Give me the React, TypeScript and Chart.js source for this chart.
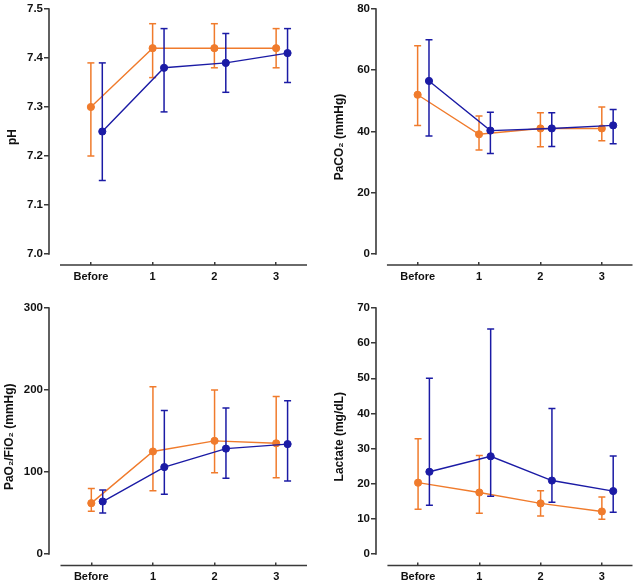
import React, { useEffect, useRef } from "react";
import { Chart, registerables } from "chart.js";

Chart.register(...registerables);

// ---------- data ----------
const categories = ["Before", "1", "2", "3"];
const orangeX = [0, 1, 2, 3];
const blueX = [0.185, 1.185, 2.185, 3.185];

const phTicks = [7.0, 7.1, 7.2, 7.3, 7.4, 7.5];
const phOrangeMean = [7.3, 7.42, 7.42, 7.42];
const phOrangeLow = [7.2, 7.36, 7.38, 7.38];
const phOrangeHigh = [7.39, 7.47, 7.47, 7.46];
const phBlueMean = [7.25, 7.38, 7.39, 7.41];
const phBlueLow = [7.15, 7.29, 7.33, 7.35];
const phBlueHigh = [7.39, 7.46, 7.45, 7.46];

const paco2Ticks = [0, 20, 40, 60, 80];
const paco2OrangeMean = [52, 39.1, 41, 41];
const paco2OrangeLow = [42, 34, 35, 37];
const paco2OrangeHigh = [68, 45.1, 46.1, 48];
const paco2BlueMean = [56.5, 40.3, 41, 42];
const paco2BlueLow = [38.5, 32.8, 35.1, 36];
const paco2BlueHigh = [70, 46.3, 46.1, 47.2];

const pfTicks = [0, 100, 200, 300];
const pfOrangeMean = [62, 125, 138, 135];
const pfOrangeLow = [52, 77, 99, 93];
const pfOrangeHigh = [80, 204, 200, 192];
const pfBlueMean = [64, 106, 128.5, 134];
const pfBlueLow = [50, 73, 92.5, 89];
const pfBlueHigh = [78, 175, 178, 187];

const lacTicks = [0, 10, 20, 30, 40, 50, 60, 70];
const lacOrangeMean = [20.3, 17.5, 14.4, 12.1];
const lacOrangeLow = [12.7, 11.6, 10.8, 9.9];
const lacOrangeHigh = [32.8, 28, 18, 16.2];
const lacBlueMean = [23.4, 27.8, 20.9, 17.9];
const lacBlueLow = [13.9, 16.4, 14.7, 11.9];
const lacBlueHigh = [50, 64, 41.4, 27.9];

// ---------- styles ----------
const ORANGE = "#F07B2C";
const BLUE = "#1B1BA5";
const AXIS = "#3a3a3a";
const TEXT = "#111111";
const FONT = "'Liberation Sans', Arial, sans-serif";
const CANVAS_W = 319;
const CANVAS_H = 292;
const X_EXTENT = [-0.5, 3.5];

type PanelDef = {
  key: string;
  left: number;
  top: number;
  L: number;
  T: number;
  W: number;
  H: number;
  gap: number;
  titlePad: number;
  title: string;
  ticks: number[];
  decimals: number;
  orange: [number[], number[], number[]];
  blue: [number[], number[], number[]];
};

const panels: PanelDef[] = [
  { key: "ph", left: 0, top: 0, L: 49, T: 9, W: 258, H: 256, gap: 11, titlePad: 5.8, title: "pH", ticks: phTicks, decimals: 1,
    orange: [phOrangeMean, phOrangeLow, phOrangeHigh], blue: [phBlueMean, phBlueLow, phBlueHigh] },
  { key: "paco2", left: 319, top: 0, L: 57, T: 9, W: 258, H: 256, gap: 11, titlePad: 13.5, title: "PaCO\u2082 (mmHg)", ticks: paco2Ticks, decimals: 0,
    orange: [paco2OrangeMean, paco2OrangeLow, paco2OrangeHigh], blue: [paco2BlueMean, paco2BlueLow, paco2BlueHigh] },
  { key: "pf", left: 0, top: 292, L: 49, T: 16, W: 258, H: 257.5, gap: 11.5, titlePad: 2.8, title: "PaO\u2082/FiO\u2082 (mmHg)", ticks: pfTicks, decimals: 0,
    orange: [pfOrangeMean, pfOrangeLow, pfOrangeHigh], blue: [pfBlueMean, pfBlueLow, pfBlueHigh] },
  { key: "lac", left: 319, top: 292, L: 57, T: 16, W: 258, H: 257.5, gap: 11.5, titlePad: 13.5, title: "Lactate (mg/dL)", ticks: lacTicks, decimals: 0,
    orange: [lacOrangeMean, lacOrangeLow, lacOrangeHigh], blue: [lacBlueMean, lacBlueLow, lacBlueHigh] },
];

function meanPoints(xs: number[], ys: number[]) {
  return xs.map((x, i) => ({ x, y: ys[i] }));
}

function errorBarPoints(xs: number[], lo: number[], hi: number[]) {
  const pts: { x: number; y: number | null }[] = [];
  xs.forEach((x, i) => {
    pts.push({ x, y: lo[i] }, { x, y: hi[i] }, { x, y: null });
  });
  return pts;
}

const offsetAxesPlugin = {
  id: "offsetAxes",
  beforeDatasetsDraw(chart: any, _args: any, opts: any) {
    const { ctx, chartArea, scales } = chart;
    const x = scales.x;
    const y = scales.y;
    ctx.save();
    ctx.strokeStyle = opts.color;
    ctx.lineWidth = opts.width;
    ctx.beginPath();
    ctx.moveTo(chartArea.left, y.getPixelForValue(opts.yMax) - 0.75);
    ctx.lineTo(chartArea.left, y.getPixelForValue(opts.yMin) + 0.75);
    ctx.moveTo(x.getPixelForValue(opts.xMin), chartArea.bottom);
    ctx.lineTo(x.getPixelForValue(opts.xMax), chartArea.bottom);
    ctx.stroke();
    ctx.restore();
  },
};

function Panel({ p }: { p: PanelDef }) {
  const ref = useRef<HTMLCanvasElement | null>(null);

  useEffect(() => {
    if (!ref.current) return;
    const yMin = p.ticks[0];
    const yMax = p.ticks[p.ticks.length - 1];
    const yLow = yMin - (p.gap * (yMax - yMin)) / (p.H - p.gap);
    const xSpan = X_EXTENT[1] - X_EXTENT[0];
    const xLow = X_EXTENT[0] - (p.gap * xSpan) / (p.W - p.gap);

    const series = (color: string, xs: number[], vals: [number[], number[], number[]], order: number) => [
      {
        type: "line" as const,
        data: errorBarPoints(xs, vals[1], vals[2]),
        borderColor: color,
        borderWidth: 1.5,
        pointStyle: "line" as const,
        pointRadius: 3.5,
        pointBorderWidth: 1.5,
        pointBorderColor: color,
        pointBackgroundColor: color,
        spanGaps: false,
        fill: false,
        order: order + 1,
      },
      {
        type: "line" as const,
        data: meanPoints(xs, vals[0]),
        borderColor: color,
        borderWidth: 1.4,
        pointStyle: "circle" as const,
        pointRadius: 3.6,
        pointBorderWidth: 1,
        pointBorderColor: color,
        pointBackgroundColor: color,
        fill: false,
        tension: 0,
        order,
      },
    ];

    const chart = new Chart(ref.current, {
      type: "line",
      data: {
        datasets: [
          ...series(ORANGE, orangeX, p.orange, 10),
          ...series(BLUE, blueX, p.blue, 1),
        ] as any,
      },
      options: {
        animation: false,
        responsive: false,
        events: [],
        layout: {
          padding: { left: 0, top: p.T, right: CANVAS_W - p.L - p.W, bottom: 0 },
        },
        plugins: {
          legend: { display: false },
          tooltip: { enabled: false },
          offsetAxes: { color: AXIS, width: 1.6, yMin, yMax, xMin: X_EXTENT[0], xMax: X_EXTENT[1] },
        } as any,
        scales: {
          x: {
            type: "linear",
            min: xLow,
            max: X_EXTENT[1],
            afterBuildTicks: (scale: any) => {
              scale.ticks = orangeX.map((v) => ({ value: v }));
            },
            afterFit: (scale: any) => {
              scale.height = CANVAS_H - p.T - p.H;
            },
            grid: { drawOnChartArea: false, drawTicks: true, tickLength: -3, color: AXIS, lineWidth: 1.5 },
            border: { display: false },
            ticks: {
              autoSkip: false,
              maxRotation: 0,
              padding: 8,
              color: TEXT,
              font: { family: FONT, size: 11, weight: "bold" },
              callback: (v: any) => categories[Math.round(Number(v))] ?? "",
            },
          },
          y: {
            type: "linear",
            min: yLow,
            max: yMax,
            afterBuildTicks: (scale: any) => {
              scale.ticks = p.ticks.map((v) => ({ value: v }));
            },
            afterFit: (scale: any) => {
              scale.width = p.L;
            },
            grid: { drawOnChartArea: false, drawTicks: true, tickLength: 5, color: AXIS, lineWidth: 1.5 },
            border: { display: false },
            ticks: {
              padding: 1,
              color: TEXT,
              font: { family: FONT, size: 11.5, weight: "bold" },
              callback: (v: any) => Number(v).toFixed(p.decimals),
            },
            title: {
              display: true,
              text: p.title,
              color: TEXT,
              font: { family: FONT, size: 12, weight: "bold" },
              padding: { top: p.titlePad, bottom: 0 },
            },
          },
        },
      },
      plugins: [offsetAxesPlugin],
    } as any);

    return () => chart.destroy();
  }, [p]);

  return (
    <canvas
      ref={ref}
      width={CANVAS_W}
      height={CANVAS_H}
      style={{ position: "absolute", left: p.left, top: p.top, width: CANVAS_W, height: CANVAS_H }}
    />
  );
}

export default function App() {
  return (
    <div style={{ position: "absolute", left: 0, top: 0, width: 638, height: 584, background: "#ffffff", overflow: "hidden" }}>
      {panels.map((p) => (
        <Panel key={p.key} p={p} />
      ))}
    </div>
  );
}
